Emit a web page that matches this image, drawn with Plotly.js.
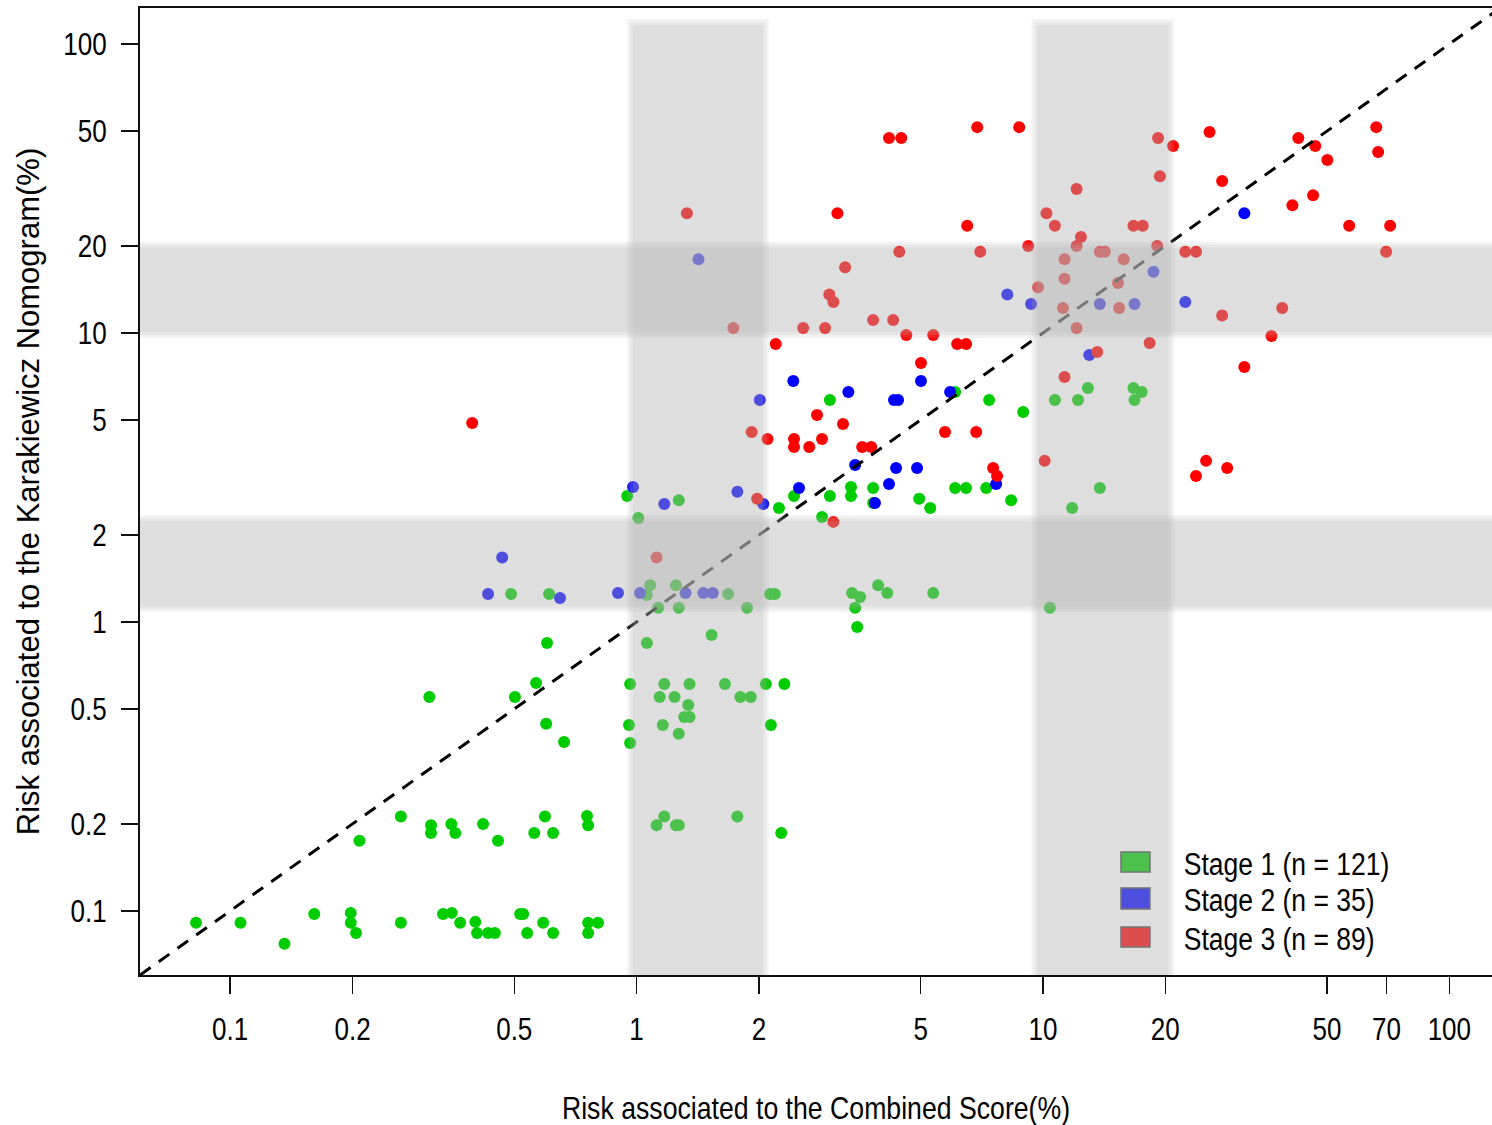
<!DOCTYPE html>
<html>
<head>
<meta charset="utf-8">
<script src="https://cdn.plot.ly/plotly-3.0.1.min.js"></script>
<style>
  html, body { margin: 0; padding: 0; background: #ffffff; }
  #chart { width: 1492px; height: 1125px; }
  /* condensed lettering for tick labels, x title and legend text */
  #chart g.xtick, #chart g.ytick, #chart g.g-xtitle, #chart g.annotation {
    transform-box: fill-box;
  }
  #chart g.xtick { transform-origin: center; transform: scaleX(0.84); }
  #chart g.ytick { transform-origin: right center; transform: scaleX(0.84); }
  #chart g.g-xtitle { transform-origin: center; transform: scaleX(0.86); }
  #chart g.annotation { transform-origin: left center; transform: scaleX(0.855); }
  /* y title sits a little further out from the tick labels */
  #chart g.g-ytitle { translate: -16px 0; }
</style>
</head>
<body>
<div id="chart"></div>
<script>
// Risk (%) per patient: Combined Score (x) against the Karakiewicz Nomogram (y)
var stage1X = [
  0.0824, 0.106, 0.136, 0.161, 0.198, 0.198, 0.204, 0.263, 0.334, 0.351,
  0.368, 0.401, 0.405, 0.431, 0.448, 0.517, 0.526, 0.538, 0.589, 0.623,
  0.760, 0.760, 0.804,
  0.208, 0.263, 0.312, 0.312, 0.350, 0.358, 0.419, 0.456, 0.560, 0.595,
  0.623, 0.755, 0.760, 1.17, 1.12, 1.25, 1.27, 1.77, 2.27,
  0.309, 0.502, 0.566, 0.599, 0.663, 0.602, 0.964, 1.17, 1.35, 1.65,
  2.08, 2.31, 1.14, 1.24, 1.80, 1.91, 1.34, 1.31, 1.35, 0.958,
  1.16, 2.14, 0.964, 1.27, 1.06, 1.53, 1.13, 1.27, 1.87, 0.491,
  0.609, 1.06, 1.08, 1.25, 1.68, 2.13, 2.19, 1.01, 0.948, 1.27,
  2.24, 2.44, 2.86, 2.99, 3.37, 3.37, 3.82, 3.82, 4.96, 5.28,
  6.08, 6.47, 7.25, 8.35, 11.8, 13.8, 2.99, 6.08, 7.37, 8.94,
  10.7, 12.2, 12.9, 16.7, 17.5, 16.8, 10.4, 3.39, 3.55, 3.45,
  3.49, 3.93, 4.14, 5.37
];
var stage1Y = [
  0.0909, 0.0909, 0.0769, 0.0976, 0.0984, 0.0909, 0.0839, 0.0909, 0.0976, 0.0984,
  0.0909, 0.0916, 0.0839, 0.0839, 0.0839, 0.0976, 0.0976, 0.0839, 0.0909, 0.0839,
  0.0909, 0.0839, 0.0909,
  0.175, 0.212, 0.198, 0.186, 0.200, 0.186, 0.200, 0.175, 0.186, 0.212,
  0.186, 0.213, 0.198, 0.212, 0.198, 0.198, 0.198, 0.212, 0.186,
  0.550, 0.550, 0.615, 0.444, 0.384, 0.846, 0.610, 0.610, 0.610, 0.610,
  0.610, 0.610, 0.550, 0.550, 0.550, 0.550, 0.516, 0.469, 0.469, 0.440,
  0.440, 0.440, 0.381, 0.410, 0.846, 0.902, 1.12, 1.12, 1.12, 1.25,
  1.25, 1.24, 1.34, 1.34, 1.25, 1.25, 1.25, 2.29, 2.73, 2.64,
  2.48, 2.73, 2.31, 2.73, 2.93, 2.73, 2.91, 2.58, 2.67, 2.48,
  2.91, 2.91, 2.91, 2.64, 2.48, 2.91, 5.86, 6.25, 5.86, 5.33,
  5.86, 5.86, 6.45, 6.45, 6.25, 5.86, 1.12, 1.26, 1.22, 1.12,
  0.961, 1.34, 1.26, 1.26
];

var stage2X = [
  0.431, 0.467, 0.648, 0.900, 1.02, 1.32, 1.46, 1.54, 1.42, 0.980,
  1.17, 1.77, 2.05, 2.01, 2.43, 2.51, 3.32, 3.45, 3.86, 4.18,
  4.35, 4.30, 4.40, 4.90, 5.01, 5.91, 7.67, 8.17, 9.35, 13.0,
  13.8, 16.8, 18.7, 22.4, 31.3
];
var stage2Y = [
  1.25, 1.67, 1.21, 1.26, 1.26, 1.26, 1.26, 1.26, 18.0, 2.93,
  2.56, 2.82, 2.56, 5.86, 6.82, 2.91, 6.25, 3.49, 2.58, 3.00,
  3.41, 5.86, 5.86, 3.41, 6.82, 6.25, 3.00, 13.6, 12.6, 8.39,
  12.6, 12.6, 16.3, 12.8, 26.0
];

var stage3X = [
  0.394, 1.12, 1.33, 1.73, 1.92, 1.98, 2.10, 2.20, 2.44, 2.44,
  2.57, 2.66, 2.78, 2.86, 2.91, 3.05, 2.98, 3.05, 3.12, 3.22,
  3.26, 3.59, 3.78, 3.82, 4.18, 4.28, 4.43, 4.48, 4.61, 5.01,
  5.37, 5.74, 6.15, 6.47, 6.51, 6.85, 6.89, 7.01, 7.54, 7.71,
  8.74, 9.20, 9.73, 10.1, 10.2, 10.7, 11.2, 11.3, 11.3, 11.3,
  12.1, 12.1, 12.4, 12.1, 13.6, 13.8, 14.2, 15.3, 15.4, 15.8,
  16.7, 17.6, 18.3, 19.1, 19.2, 19.4, 20.9, 22.4, 23.8, 23.8,
  25.2, 25.7, 27.6, 27.6, 28.4, 31.3, 36.5, 38.8, 41.1, 42.5,
  46.2, 46.8, 50.1, 56.7, 66.1, 66.8, 69.9, 71.5
];
var stage3Y = [
  4.88, 1.67, 26.0, 10.4, 4.54, 2.67, 4.30, 9.16, 4.30, 4.03,
  10.4, 4.03, 5.20, 4.30, 10.4, 2.22, 13.6, 12.8, 26.0, 4.84,
  16.9, 4.03, 4.03, 11.1, 47.3, 11.1, 19.1, 47.3, 9.84, 7.87,
  9.84, 4.54, 9.16, 9.16, 23.5, 4.54, 51.6, 19.1, 3.41, 3.20,
  51.6, 20.0, 14.4, 3.61, 26.0, 23.5, 12.2, 18.0, 15.4, 7.04,
  31.5, 20.0, 21.5, 10.4, 8.59, 19.1, 19.1, 14.9, 12.2, 18.0,
  23.5, 23.5, 9.23, 20.0, 47.3, 34.9, 44.4, 19.1, 19.1, 3.20,
  3.61, 49.6, 33.6, 11.5, 3.41, 7.63, 9.76, 12.2, 27.7, 47.3,
  30.0, 44.4, 39.7, 23.5, 51.6, 42.3, 19.1, 23.5
];

var stageNames = ['Stage 1 (n = 121)', 'Stage 2 (n = 35)', 'Stage 3 (n = 89)'];

// Tick marks on both log axes
var xTickVals = [0.1, 0.2, 0.5, 1, 2, 5, 10, 20, 50, 70, 100];
var xTickText = ['0.1', '0.2', '0.5', '1', '2', '5', '10', '20', '50', '70', '100'];
var yTickVals = [0.1, 0.2, 0.5, 1, 2, 5, 10, 20, 50, 100];
var yTickText = ['0.1', '0.2', '0.5', '1', '2', '5', '10', '20', '50', '100'];

// Shaded risk bands: vertical ones on the Combined Score, horizontal ones on the Nomogram
var xBands = [[0.964, 2.08], [9.53, 20.7]];
var yBands = [[1.11, 2.285], [9.84, 20.2]];
var xBandTop = 119;

var xRange = [-1.222, 2.105];   // log10 units
var yRange = [-1.222, 2.125];

var colors = ['#00cd00', '#0000ff', '#ff0000'];
var textFont = "'Liberation Sans', Arial, sans-serif";

function pts(x, y, c) {
  return {
    type: 'scatter', mode: 'markers', x: x, y: y,
    marker: { color: c, size: 12, line: { width: 0 } },
    hoverinfo: 'skip', showlegend: false
  };
}

var traces = [
  pts(stage1X, stage1Y, colors[0]),
  pts(stage2X, stage2Y, colors[1]),
  pts(stage3X, stage3Y, colors[2])
];

var lo = Math.pow(10, Math.min(xRange[0], yRange[0]));
var hi = Math.pow(10, Math.max(xRange[1], yRange[1]));

var shapes = [];
var annotations = [];

// Legend keys and labels (paper coordinates, lower right)
var keyX0 = 0.7256, keyX1 = 0.7470;
var keyRows = [[0.1065, 0.1272], [0.0683, 0.0900], [0.0290, 0.0496]];
for (var i = 0; i < 3; i++) {
  shapes.push({
    type: 'rect', xref: 'paper', yref: 'paper', layer: 'above',
    x0: keyX0, x1: keyX1, y0: keyRows[i][0], y1: keyRows[i][1],
    fillcolor: colors[i], line: { color: '#444444', width: 1.5 }
  });
  annotations.push({
    xref: 'paper', yref: 'paper', x: 0.7705, y: (keyRows[i][0] + keyRows[i][1]) / 2 - 0.0025,
    xanchor: 'left', yanchor: 'middle', showarrow: false,
    text: stageNames[i], font: { family: textFont, size: 31, color: '#000000' }
  });
}

// Identity line y = x
shapes.push({
  type: 'line', xref: 'x', yref: 'y', layer: 'above',
  x0: lo, y0: lo, x1: hi, y1: hi,
  line: { color: '#000000', width: 3, dash: '13px,10px' }
});

// Translucent bands drawn over everything in the plot area,
// each built from three nested layers so the edges fade softly
var bandFill = 'rgb(182,182,182)';
var layerOpacity = 0.173;
var xStep = Math.pow(10, 3 / 406.3);   // about 3 px on the x axis
var yStep = Math.pow(10, 3 / 289);     // about 3 px on the y axis
[-1, 0, 1].forEach(function (k) {
  var fx = Math.pow(xStep, k), fy = Math.pow(yStep, k);
  xBands.forEach(function (b) {
    shapes.push({
      type: 'rect', xref: 'x', yref: 'y', layer: 'above',
      x0: b[0] * fx, x1: b[1] / fx, y0: lo, y1: xBandTop / fy,
      fillcolor: bandFill, opacity: layerOpacity, line: { width: 0 }
    });
  });
  yBands.forEach(function (b) {
    shapes.push({
      type: 'rect', xref: 'paper', yref: 'y', layer: 'above',
      x0: 0, x1: 1, y0: b[0] * fy, y1: b[1] / fy,
      fillcolor: bandFill, opacity: layerOpacity, line: { width: 0 }
    });
  });
});

var axisCommon = {
  type: 'log', showgrid: false, zeroline: false,
  showline: true, mirror: true, linecolor: '#111111', linewidth: 2,
  ticks: 'outside', ticklen: 17, tickwidth: 1.5, tickcolor: '#111111',
  tickmode: 'array', automargin: false
};

var layout = {
  width: 1492, height: 1125,
  margin: { l: 140, r: 0, t: 8, b: 150 },
  paper_bgcolor: '#ffffff', plot_bgcolor: '#ffffff',
  showlegend: false,
  xaxis: Object.assign({}, axisCommon, {
    range: xRange, tickvals: xTickVals, ticktext: xTickText,
    tickfont: { family: textFont, size: 31, color: '#000000' },
    ticklabelstandoff: 9,
    title: { text: '<br>Risk associated to the Combined Score(%)',
             font: { family: textFont, size: 31, color: '#000000' } }
  }),
  yaxis: Object.assign({}, axisCommon, {
    range: yRange, tickvals: yTickVals, ticktext: yTickText,
    tickfont: { family: textFont, size: 31, color: '#000000' },
    ticklabelstandoff: 8,
    title: { text: 'Risk associated to the Karakiewicz Nomogram(%)',
             font: { family: textFont, size: 31, color: '#000000' } }
  }),
  shapes: shapes,
  annotations: annotations
};

Plotly.newPlot('chart', traces, layout, { staticPlot: true, displayModeBar: false });
</script>
</body>
</html>
